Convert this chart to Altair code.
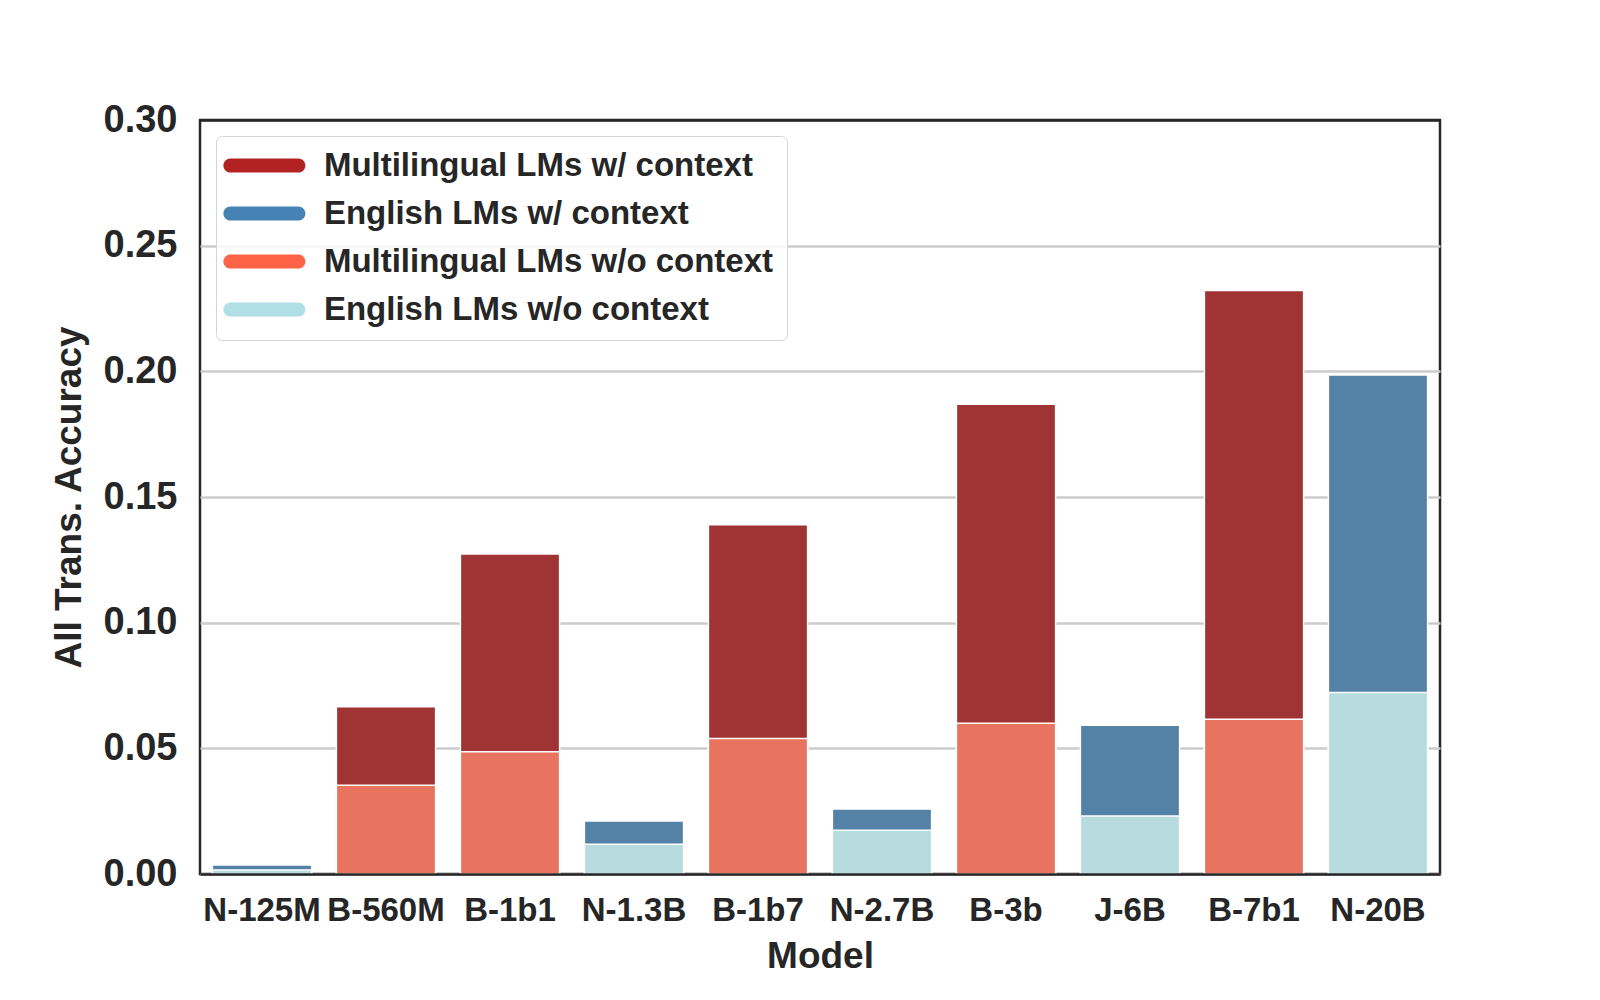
import altair as alt
import pandas as pd

models = ["N-125M", "B-560M", "B-1b1", "N-1.3B", "B-1b7", "N-2.7B", "B-3b", "J-6B", "B-7b1", "N-20B"]
families = ["English", "Multilingual", "Multilingual", "English", "Multilingual",
            "English", "Multilingual", "English", "Multilingual", "English"]
with_context = [0.0036, 0.0665, 0.1273, 0.0211, 0.1390, 0.0259, 0.1869, 0.0592, 0.2322, 0.1985]
without_context = [0.0016, 0.0353, 0.0486, 0.0118, 0.0539, 0.0174, 0.0600, 0.0231, 0.0616, 0.0722]

series = ["Multilingual LMs w/ context", "English LMs w/ context",
          "Multilingual LMs w/o context", "English LMs w/o context"]
legend_colors = ["#B22222", "#4682B4", "#FF6347", "#B0E0E6"]
bar_colors = ["#A03434", "#5482A6", "#E8735E", "#B7DBDF"]
y_ticks = [0.0, 0.05, 0.10, 0.15, 0.20, 0.25, 0.30]

rows = []
for m, fam, w, wo in zip(models, families, with_context, without_context):
    rows.append({"model": m, "ctx": "with", "series": f"{fam} LMs w/ context", "value": w})
    rows.append({"model": m, "ctx": "without", "series": f"{fam} LMs w/o context", "value": wo})
df = pd.DataFrame(rows)

# bar fill scale uses a differently ordered domain so its (hidden) legend is not merged with the visible one
bar_domain = sorted(series)
bar_range = [bar_colors[series.index(s)] for s in bar_domain]

FONT = "Liberation Sans"
TXT = "#262626"
pill = "M -2.055 -0.43 L 2.055 -0.43 A 0.43 0.43 0 0 1 2.055 0.43 L -2.055 0.43 A 0.43 0.43 0 0 1 -2.055 -0.43 Z"

x_enc = alt.X(
    "model:N", sort=models,
    scale=alt.Scale(paddingInner=0.2, paddingOuter=0.1),
    axis=alt.Axis(title="Model", labelAngle=0, labelFont=FONT, labelFontSize=33,
                  labelFontWeight="bold", labelColor=TXT, labelPadding=20,
                  titleFont=FONT, titleFontSize=37, titleFontWeight="bold", titleColor=TXT,
                  titlePadding=11, ticks=False, domain=True, domainColor=TXT,
                  domainWidth=2.5, grid=False, zindex=1),
)
y_enc = alt.Y(
    "value:Q", stack=None,
    scale=alt.Scale(domain=[0, 0.3], nice=False, zero=True),
    axis=alt.Axis(title="All Trans. Accuracy", values=y_ticks, format=".2f",
                  labelFont=FONT, labelFontSize=38, labelFontWeight="bold", labelColor=TXT,
                  labelPadding=23, titleFont=FONT, titleFontSize=37, titleFontWeight="bold",
                  titleColor=TXT, titlePadding=15, ticks=False, domain=False,
                  grid=True,
                  gridColor={"condition": {"test": "datum.value >= 0.299", "value": TXT},
                             "value": "#cccccc"},
                  gridWidth=2.5, zindex=0),
)
fill_enc = alt.Fill("series:N", scale=alt.Scale(domain=bar_domain, range=bar_range), legend=None)

base = alt.Chart(df)
bars_with = base.transform_filter(alt.datum.ctx == "with").mark_bar(
    stroke="white", strokeWidth=1.5).encode(x=x_enc, y=y_enc, fill=fill_enc)
bars_without = base.transform_filter(alt.datum.ctx == "without").mark_bar(
    stroke="white", strokeWidth=1.5).encode(x=x_enc, y=y_enc, fill=fill_enc)

legend_layer = base.transform_filter("false").mark_point(
    filled=True, opacity=1, shape=pill).encode(
    x=x_enc, y=y_enc,
    color=alt.Color("series:N", scale=alt.Scale(domain=series, range=legend_colors),
                    legend=alt.Legend(title=None, orient="top-left", offset=16,
                                      symbolType=pill, symbolSize=1089, symbolOpacity=1,
                                      symbolStrokeWidth=0, symbolOffset=18.9,
                                      labelOffset=43, labelFont=FONT, labelFontSize=33,
                                      labelFontWeight="bold", labelColor=TXT,
                                      labelLimit=700, rowPadding=14, padding=13,
                                      strokeColor="#d4d4d4", fillColor="rgba(255,255,255,0.8)",
                                      cornerRadius=6)),
)

chart = alt.layer(bars_with, bars_without, legend_layer).properties(
    width=1240, height=754,
    background="white",
    autosize=alt.AutoSizeParams(type="none"),
    padding={"left": 192, "top": 112, "right": 140, "bottom": 110},
).configure_view(stroke=TXT, strokeWidth=2.5)

chart.save("out.html", embed_options={"renderer": "svg", "actions": False})
